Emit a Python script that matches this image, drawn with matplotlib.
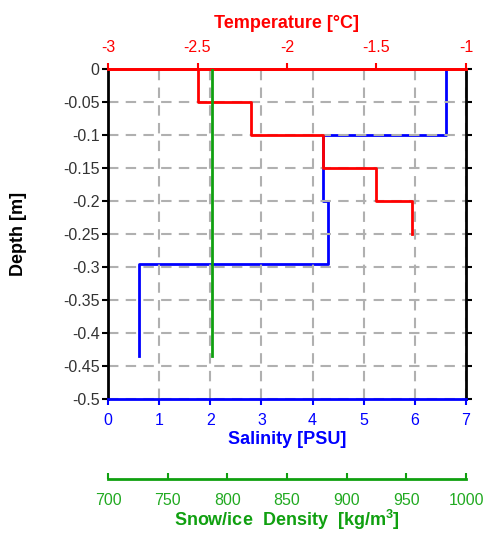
import matplotlib
matplotlib.use("Agg")
import matplotlib.pyplot as plt
from matplotlib.ticker import FuncFormatter

plt.rcParams["font.family"] = ["Liberation Sans", "DejaVu Sans"]
plt.rcParams["axes.unicode_minus"] = False

# Temperature profile: layer boundaries (m) and layer temperatures (°C)
temp_depth_edges = [0.0, -0.05, -0.10, -0.15, -0.20, -0.25]
temperature = [-2.5, -2.2, -1.8, -1.5, -1.3]

# Salinity profile: layer boundaries (m) and layer salinities (PSU)
sal_depth_edges = [0.0, -0.10, -0.20, -0.295, -0.435]
salinity = [6.6, 4.2, 4.3, 0.6]

# Snow/ice density profile
dens_depth_edges = [0.0, -0.435]
density = [787]

depth_ticks = [0, -0.05, -0.1, -0.15, -0.2, -0.25, -0.3, -0.35, -0.4, -0.45, -0.5]
sal_ticks = [0, 1, 2, 3, 4, 5, 6, 7]
temp_ticks = [-3, -2.5, -2, -1.5, -1]
dens_ticks = [700, 750, 800, 850, 900, 950, 1000]

RED = "#ff0000"
BLUE = "#0000ff"
GREEN = "#10a010"
GRID = "#b0b0b0"


def step_profile(values, edges):
    xs, ys = [], []
    for i, v in enumerate(values):
        xs += [v, v]
        ys += [edges[i], edges[i + 1]]
    return xs, ys


fig = plt.figure(figsize=(4.85, 5.34), dpi=100)
ax = fig.add_axes([108 / 485, 1 - 399 / 534, (466 - 108) / 485, 330 / 534])

# Salinity (host axes)
sx, sy = step_profile(salinity, sal_depth_edges)
ax.plot(sx, sy, color=BLUE, lw=2, zorder=1)
ax.set_xlim(sal_ticks[0], sal_ticks[-1])
ax.set_ylim(depth_ticks[-1], depth_ticks[0])
ax.set_xticks(sal_ticks)
ax.set_yticks(depth_ticks)
ax.yaxis.set_major_formatter(FuncFormatter(lambda v, p: "%g" % round(v, 3)))
ax.grid(True, color=GRID, ls=(0, (5, 3.5)), lw=1.5)
ax.set_axisbelow(False)
ax.tick_params(axis="x", top=True, bottom=True, direction="out", length=4, width=1.5,
               colors=BLUE, labelcolor=BLUE, labelsize=11.5, pad=6)
ax.tick_params(axis="y", left=True, right=True, direction="out", length=4, width=1.5,
               colors="black", labelcolor="#333333", labelsize=11.5, pad=2)
for s, c in (("left", "black"), ("right", "black"), ("bottom", BLUE), ("top", RED)):
    ax.spines[s].set_color(c)
    ax.spines[s].set_linewidth(2)
    ax.spines[s].set_zorder(5)
ax.set_xlabel("Salinity [PSU]", color=BLUE, fontweight="bold", fontsize=13, labelpad=2)
ax.set_ylabel("Depth [m]", color="black", fontweight="bold", fontsize=13, labelpad=26)

# Temperature (top axis)
axt = ax.twiny()
tx, ty = step_profile(temperature, temp_depth_edges)
axt.plot(tx, ty, color=RED, lw=2, zorder=3)
axt.set_xlim(temp_ticks[0], temp_ticks[-1])
axt.set_xticks(temp_ticks)
axt.xaxis.set_major_formatter(FuncFormatter(lambda v, p: "%g" % v))
axt.tick_params(axis="x", direction="out", length=4, width=1.5, colors=RED,
                labelcolor=RED, labelsize=11.5, pad=6)
for s in ("left", "right", "bottom"):
    axt.spines[s].set_visible(False)
axt.spines["top"].set_color(RED)
axt.spines["top"].set_linewidth(2)
axt.set_xlabel("Temperature [°C]", color=RED, fontweight="bold", fontsize=13, labelpad=9)

# Snow/ice density (offset bottom axis)
axd = ax.twiny()
dx, dy = step_profile(density, dens_depth_edges)
axd.plot(dx, dy, color=GREEN, lw=2, zorder=2)
axd.set_xlim(dens_ticks[0], dens_ticks[-1])
axd.set_xticks(dens_ticks)
axd.xaxis.set_ticks_position("bottom")
axd.xaxis.set_label_position("bottom")
axd.spines["bottom"].set_position(("axes", -80 / 330))
for s in ("left", "right", "top"):
    axd.spines[s].set_visible(False)
axd.spines["bottom"].set_color(GREEN)
axd.spines["bottom"].set_linewidth(2)
axd.tick_params(axis="x", direction="in", length=4, width=1.5, colors=GREEN,
                labelcolor="#22aa22", labelsize=11.5, pad=10)
axd.set_xlabel("Snow/ice  Density  [kg/m$^\\mathregular{3}$]", color=GREEN,
               fontweight="bold", fontsize=13, labelpad=0)

fig.savefig("out.png", dpi=100)
